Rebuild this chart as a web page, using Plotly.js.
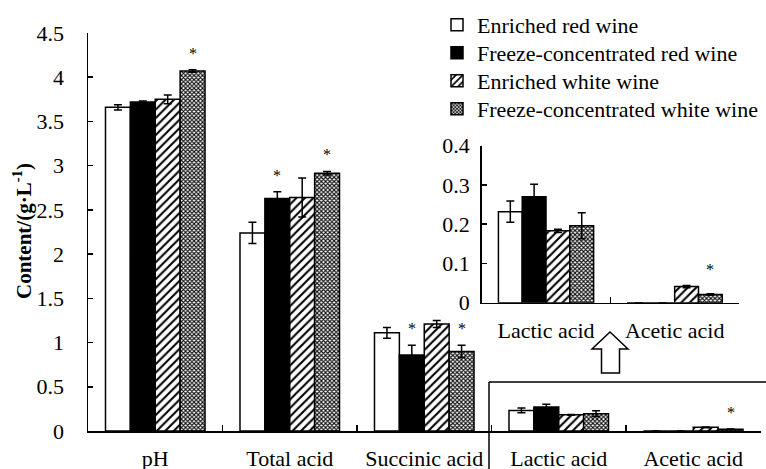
<!DOCTYPE html>
<html>
<head>
<meta charset="utf-8">
<script src="https://cdn.plot.ly/plotly-3.0.1.min.js"></script>
<style>html,body{margin:0;padding:0;background:#fff;}#chart{width:766px;height:469px;}</style>
</head>
<body>
<div id="chart"></div>
<script>
// ---- data ----
const categories = ['pH', 'Total acid', 'Succinic acid', 'Lactic acid', 'Acetic acid'];
const insetCategories = ['Lactic acid', 'Acetic acid'];
const seriesNames = ['Enriched red wine', 'Freeze-concentrated red wine', 'Enriched white wine', 'Freeze-concentrated white wine'];
const enrichedRed = [3.66, 2.24, 1.11, 0.232, 0];
const enrichedRedErr = [0.03, 0.12, 0.06, 0.027, 0];
const freezeRed = [3.72, 2.63, 0.86, 0.27, 0];
const freezeRedErr = [0.01, 0.075, 0.11, 0.032, 0];
const enrichedWhite = [3.75, 2.64, 1.21, 0.183, 0.041];
const enrichedWhiteErr = [0.05, 0.22, 0.04, 0.004, 0.003];
const freezeWhite = [4.07, 2.915, 0.90, 0.196, 0.021];
const freezeWhiteErr = [0.015, 0.02, 0.07, 0.033, 0.002];
const freezeRedSig = [false, true, true, false, false];
const freezeWhiteSig = [true, true, true, false, true];
const yTicks = [0, 0.5, 1, 1.5, 2, 2.5, 3, 3.5, 4, 4.5];
const insetTicks = [0, 0.1, 0.2, 0.3, 0.4];

// ---- styles ----
const W = 766, H = 469;
const FONT = 'Liberation Serif, Times New Roman, serif';
const px = x => x / W;
const py = y => 1 - y / H;
const BARGAP = 0.26;
const styles = [
  {color: '#ffffff'},
  {color: '#000000'},
  {color: '#ffffff', pattern: {shape: '/', fgcolor: '#000', bgcolor: '#fff', size: 6, solidity: 0.35}},
  {color: '#ffffff', pattern: {shape: 'x', fgcolor: '#111', bgcolor: '#fff', size: 3, solidity: 0.6}}
];
const values = [enrichedRed, freezeRed, enrichedWhite, freezeWhite];
const errs = [enrichedRedErr, freezeRedErr, enrichedWhiteErr, freezeWhiteErr];
const legendIds = ['legend', 'legend2', 'legend3', 'legend4'];

const traces = [];
values.forEach((v, i) => {
  const marker = Object.assign({line: {color: '#000', width: 1.5}}, styles[i]);
  traces.push({
    type: 'bar', name: seriesNames[i], x: categories, y: v,
    marker: marker,
    error_y: {type: 'data', array: errs[i], visible: true, color: '#000', thickness: 1.5, width: 4},
    xaxis: 'x', yaxis: 'y', showlegend: true, legend: legendIds[i]
  });
});
values.forEach((v, i) => {
  const marker = Object.assign({line: {color: '#000', width: 1.5}}, styles[i]);
  traces.push({
    type: 'bar', name: seriesNames[i], x: insetCategories, y: v.slice(3),
    marker: marker,
    error_y: {type: 'data', array: errs[i].slice(3), visible: true, color: '#000', thickness: 1.5, width: 4},
    xaxis: 'x2', yaxis: 'y2', showlegend: false
  });
});

// significance stars
const annotations = [];
const bw = (1 - BARGAP) / 4;
const offs = [-1.5 * bw, -0.5 * bw, 0.5 * bw, 1.5 * bw];
function addStar(xa, ya, idx, s, yv, shift) {
  annotations.push({xref: xa, yref: ya, x: idx + offs[s], y: yv, text: '*', showarrow: false,
    yanchor: 'bottom', yshift: shift, font: {family: FONT, size: 16, color: '#000'}});
}
categories.forEach((c, k) => {
  if (freezeRedSig[k]) addStar('x', 'y', k, 1, freezeRed[k] + freezeRedErr[k], 6);
  if (freezeWhiteSig[k]) addStar('x', 'y', k, 3, freezeWhite[k] + freezeWhiteErr[k], 6);
});
insetCategories.forEach((c, k) => {
  const j = k + 3;
  if (freezeRedSig[j]) addStar('x2', 'y2', k, 1, freezeRed[j] + freezeRedErr[j], 14);
  if (freezeWhiteSig[j]) addStar('x2', 'y2', k, 3, freezeWhite[j] + freezeWhiteErr[j], 14);
});
annotations.push({xref: 'paper', yref: 'paper', x: px(22), y: py(231), textangle: -90,
  text: '<b>Content/(g·L<sup>-1</sup>)</b>', showarrow: false, xanchor: 'center', yanchor: 'middle',
  font: {family: FONT, size: 21, color: '#000'}});

const axisCommon = {showline: true, linecolor: '#000', linewidth: 1.5, ticks: 'inside', tickcolor: '#000',
  tickwidth: 1.5, showgrid: false, zeroline: false, fixedrange: true,
  tickfont: {family: FONT, size: 22, color: '#000'}};

const arrow = [[610, 332], [628, 349], [619.5, 349], [619.5, 373], [601.5, 373], [601.5, 349], [592, 349]];
const arrowPath = 'M' + arrow.map(p => px(p[0]) + ',' + py(p[1])).join('L') + 'Z';

const legendTops = [4, 32, 60, 88];
const layout = {
  width: W, height: H, margin: {l: 0, r: 0, t: 0, b: 0},
  paper_bgcolor: '#fff', plot_bgcolor: 'rgba(0,0,0,0)',
  barmode: 'group', bargap: BARGAP, bargroupgap: 0,
  font: {family: FONT, color: '#000'},
  showlegend: true,
  xaxis: Object.assign({}, axisCommon, {domain: [px(88), px(760.5)], anchor: 'y', type: 'category',
    tickson: 'boundaries', ticklen: 6, ticklabelstandoff: 7}),
  yaxis: Object.assign({}, axisCommon, {domain: [py(431), py(33)], anchor: 'x', range: [0, 4.5],
    tickvals: yTicks, ticklen: 5, ticklabelstandoff: 18}),
  xaxis2: Object.assign({}, axisCommon, {domain: [px(481.7), px(739)], anchor: 'y2', type: 'category',
    tickson: 'boundaries', ticklen: 6, ticklabelstandoff: 7}),
  yaxis2: Object.assign({}, axisCommon, {domain: [py(302.7), py(145.7)], anchor: 'x2', range: [0, 0.4],
    tickvals: insetTicks, ticklen: 5, ticklabelstandoff: 6}),
  shapes: [
    {type: 'line', xref: 'paper', yref: 'paper', x0: px(489), x1: px(489), y0: py(382), y1: 0, line: {color: '#000', width: 1.5}},
    {type: 'line', xref: 'paper', yref: 'paper', x0: px(489), x1: 1, y0: py(382), y1: py(382), line: {color: '#000', width: 1.5}},
    {type: 'path', xref: 'paper', yref: 'paper', path: arrowPath, fillcolor: '#fff', line: {color: '#000', width: 1.5}}
  ],
  annotations: annotations
};
legendIds.forEach((id, i) => {
  layout[id] = {x: px(437), y: py(legendTops[i]), xanchor: 'left', yanchor: 'top', bgcolor: 'rgba(0,0,0,0)',
    font: {family: FONT, size: 22, color: '#000'}};
});

Plotly.newPlot('chart', traces, layout, {displayModeBar: false, staticPlot: true});
</script>
</body>
</html>
